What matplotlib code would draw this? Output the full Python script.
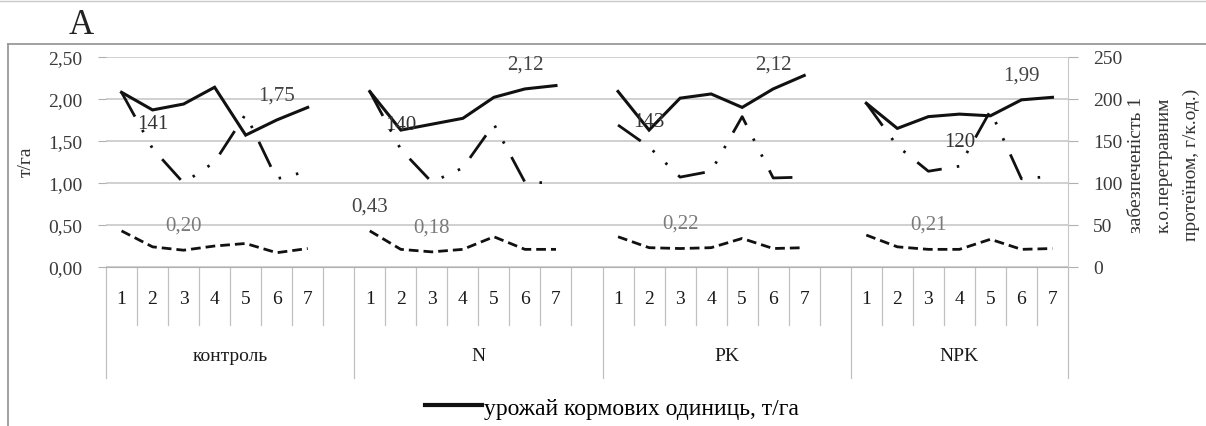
import matplotlib
matplotlib.use('Agg')
import matplotlib.pyplot as plt
import matplotlib.transforms as mtrans
from matplotlib.lines import Line2D
from matplotlib.ticker import FuncFormatter, MultipleLocator

plt.rcParams['font.family'] = ['Liberation Serif', 'DejaVu Serif']

groups = ['контроль', 'N', 'PK', 'NPK']
points = ['1', '2', '3', '4', '5', '6', '7']

# урожай кормових одиниць, т/га (left axis, solid)
fu_yield = [
    [2.08, 1.87, 1.94, 2.14, 1.57, 1.75, 1.90],
    [2.09, 1.63, 1.70, 1.77, 2.02, 2.12, 2.16],
    [2.09, 1.63, 2.01, 2.06, 1.90, 2.12, 2.28],
    [1.95, 1.65, 1.79, 1.82, 1.80, 1.99, 2.02],
]
# second left-axis series (short dash)
protein_yield = [
    [0.43, 0.24, 0.20, 0.25, 0.28, 0.17, 0.22],
    [0.43, 0.21, 0.18, 0.21, 0.36, 0.21, 0.21],
    [0.36, 0.23, 0.22, 0.23, 0.34, 0.22, 0.23],
    [0.38, 0.24, 0.21, 0.21, 0.33, 0.21, 0.22],
]
# забезпеченість 1 к.о. перетравним протеїном, г/к.од. (right axis)
protein_supply = [
    [208, 141, 100, 125, 182, 105, 114],
    [209, 140, 101, 118, 170, 101, 100],
    [169, 143, 107, 114, 179, 106, 107],
    [195, 144, 114, 120, 186, 105, 108],
]

# data labels: (group, point index, text)
fu_labels = [(0, 5, '1,75'), (1, 5, '2,12'), (2, 5, '2,12'), (3, 5, '1,99')]
supply_labels = [(0, 1, '141'), (1, 1, '140'), (2, 1, '143'), (3, 3, '120')]
protein_labels = [(0, 2, '0,20'), (1, 0, '0,43'), (1, 2, '0,18'), (2, 2, '0,22'), (3, 2, '0,21')]

slots = [8, 8, 8, 7]
starts = [sum(slots[:i]) for i in range(len(slots))]
n_total = sum(slots)

W, H = 1206, 427
fig = plt.figure(figsize=(W / 100, H / 100), dpi=100)
ax = fig.add_axes([106 / W, 1 - 268 / H, (1068 - 106) / W, 210 / H])
ax2 = ax.twinx()

ax.set_xlim(0, n_total)
ax.set_ylim(0, 2.5)
ax2.set_ylim(0, 250)
ax.yaxis.set_major_locator(MultipleLocator(0.5))
ax2.yaxis.set_major_locator(MultipleLocator(50))
ax.yaxis.set_major_formatter(FuncFormatter(lambda v, p: f'{v:.2f}'.replace('.', ',')))
ax2.yaxis.set_major_formatter(FuncFormatter(lambda v, p: f'{v:.0f}'))
ax.set_xticks([])
ax2.set_xticks([])

for a in (ax, ax2):
    for s in ('top', 'left', 'right'):
        a.spines[s].set_visible(False)
    a.spines['bottom'].set_color('#b0b0b0')
ax2.spines['right'].set_visible(True)
ax2.spines['right'].set_color('#c8c8c8')
ax2.spines['bottom'].set_visible(False)

ax.tick_params(axis='y', length=6, color='#b0b0b0', labelsize=14, labelcolor='#3a3a3a', pad=11)
ax2.tick_params(axis='y', length=7, color='#b0b0b0', labelsize=14, labelcolor='#3a3a3a', pad=11)
ax.grid(axis='y', color='#c4c4c4', lw=1.1)
ax.set_axisbelow(True)

ink = '#111111'
for g in range(len(groups)):
    xs = [starts[g] + k + 0.5 for k in range(len(points))]
    ax.plot(xs, fu_yield[g], color=ink, lw=2.2, solid_joinstyle='miter', zorder=3)
    ax.plot(xs, protein_yield[g], color=ink, lw=2.0, ls=(0, (3.5, 1.8)), zorder=3)
    ax2.plot(xs, protein_supply[g], color=ink, lw=2.0,
             ls=(0, (10, 5.5, 0.9, 5.5, 0.9, 5.5)), zorder=3)

def put_label(a, series, g, k, txt, col):
    a.annotate(txt, (starts[g] + k + 0.5, series[g][k]), xytext=(0, 25),
               textcoords='offset pixels', ha='center', va='center',
               fontsize=15, color=col, zorder=1)

for g, k, t in fu_labels:
    put_label(ax, fu_yield, g, k, t, '#444444')
for g, k, t in supply_labels:
    put_label(ax2, protein_supply, g, k, t, '#333333')
for g, k, t in protein_labels:
    put_label(ax, protein_yield, g, k, t, '#444444' if t == '0,43' else '#7a7a7a')

# multi-level category axis
tr = mtrans.blended_transform_factory(ax.transData, ax.transAxes)
for g in range(len(groups)):
    for j in range(1, slots[g]):
        ax.plot([starts[g] + j] * 2, [0, -0.275], transform=tr, clip_on=False,
                color='#c0c0c0', lw=0.9)
    for k, p in enumerate(points):
        ax.text(starts[g] + k + 0.5, -0.152, p, transform=tr, ha='center', va='center',
                fontsize=14, color='#1a1a1a')
    ax.text(starts[g] + slots[g] / 2, -0.42, groups[g], transform=tr, ha='center',
            va='center', fontsize=14, color='#1a1a1a')
for x in starts + [n_total]:
    ax.plot([x, x], [0, -0.53], transform=tr, clip_on=False, color='#c0c0c0', lw=0.9)

# axis titles
fig.text(26 / W, 1 - 162 / H, 'т/га', rotation=90, ha='center', va='center',
         fontsize=14, color='#333333')
fig.text(1164 / W, 1 - 165 / H, 'забезпеченість 1\nк.о.перетравним\nпротеїном, г/к.од.)',
         rotation=90, ha='center', va='center', ma='center', fontsize=14,
         color='#333333', linespacing=1.8)

fig.text(81 / W, 1 - 25 / H, 'A', ha='center', va='center', fontsize=25, color='#222222')

# outer chart frame
fig.add_artist(Line2D([8 / W, 1.0], [1 - 45 / H] * 2, color='#9a9a9a', lw=1.3))
fig.add_artist(Line2D([8 / W] * 2, [0, 1 - 45 / H], color='#9a9a9a', lw=1.3))
fig.add_artist(Line2D([0, 1], [1 - 1.5 / H] * 2, color='#c8c8c8', lw=1.0))

fig.legend(handles=[Line2D([], [], color=ink, lw=3)],
           labels=['урожай кормових одиниць, т/га'], loc='center',
           bbox_to_anchor=(612 / W, 1 - 409 / H), frameon=False, fontsize=17,
           handlelength=2.4, handletextpad=0.1)

fig.savefig('out.png', dpi=100)
